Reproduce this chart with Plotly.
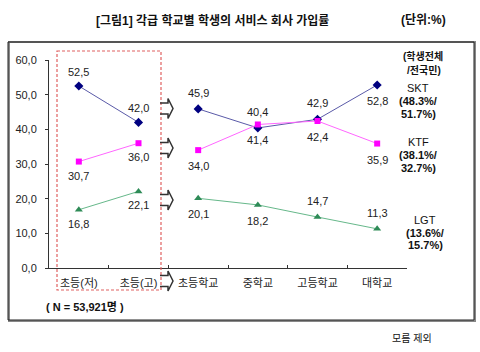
import plotly.graph_objects as go

categories = ["초등(저)", "초등(고)", "초등학교", "중학교", "고등학교", "대학교"]
skt = [52.5, 42.0, 45.9, 40.4, 42.9, 52.8]
ktf = [30.7, 36.0, 34.0, 41.4, 42.4, 35.9]
lgt = [16.8, 22.1, 20.1, 18.2, 14.7, 11.3]
y_ticks = [0, 10, 20, 30, 40, 50, 60]

title_text = "[그림1] 각급 학교별 학생의 서비스 회사 가입률"
unit_text = "(단위:%)"
n_text = "( N = 53,921명 )"
note_text = "모름 제외"
side_header = ["(학생전체", "/전국민)"]
side_labels = {
    "SKT": ["SKT", "(48.3%/", "51.7%)"],
    "KTF": ["KTF", "(38.1%/", "32.7%)"],
    "LGT": ["LGT", "(13.6%/", "15.7%)"],
}

W, H = 480, 352
L, R, T, B = 49, 407, 60, 268
FONT = "Liberation Sans, Arial, Noto Sans CJK KR, sans-serif"

def px(x):
    return (x - L) / (R - L)

def py(y):
    return (B - y) / (B - T)

def fmt(v):
    return f"{v:.1f}".replace(".", ",")

series = [
    ("SKT", skt, "#000080", "#5a5aa8", "diamond", 7,
     ["top"] * 5 + ["bottom"]),
    ("KTF", ktf, "#ff00ff", "#ff66ff", "square", 6,
     ["bottom"] * 6),
    ("LGT", lgt, "#2e8b57", "#66b88a", "triangle-up", 7,
     ["bottom"] * 4 + ["top"] * 2),
]

annotations = []
fig = go.Figure()
for name, vals, mcol, lcol, sym, msz, pos in series:
    for sl in (slice(0, 2), slice(2, 6)):
        fig.add_trace(go.Scatter(
            x=categories[sl], y=vals[sl], mode="lines+markers",
            line=dict(color=lcol, width=1),
            marker=dict(symbol=sym, size=msz, color=mcol),
            showlegend=False, cliponaxis=False, name=name,
        ))
    for i, (c, v, p) in enumerate(zip(categories, vals, pos)):
        shift = 14 if i < 2 else 16
        annotations.append(dict(
            x=c, y=v, xref="x", yref="y", text=fmt(v), showarrow=False,
            xanchor="center", yanchor="middle",
            yshift=shift if p == "top" else -shift,
            font=dict(size=11, color="#222222", family=FONT)))

shapes = []
# outer box with shadow
shapes.append(dict(type="rect", xref="paper", yref="paper",
                   x0=px(9), x1=px(475), y0=py(42), y1=py(321),
                   line=dict(color="#888888", width=2), layer="below"))
shapes.append(dict(type="rect", xref="paper", yref="paper",
                   x0=px(8), x1=px(474), y0=py(42), y1=py(320),
                   line=dict(color="#222222", width=1), layer="below"))
# red dashed box
shapes.append(dict(type="rect", xref="paper", yref="paper",
                   x0=px(57), x1=px(161), y0=py(51), y1=py(290),
                   line=dict(color="#e06060", width=1.2, dash="3px,2px")))

# block arrows
def arrow(cy, half_body=5.5, half_head=10):
    xs = [(160, cy - half_body), (168, cy - half_body), (168, cy - half_head),
          (173, cy), (168, cy + half_head), (168, cy + half_body), (160, cy + half_body)]
    d = "M " + " L ".join(f"{px(x):.5f},{py(y):.5f}" for x, y in xs)
    return dict(type="path", xref="paper", yref="paper", path=d,
                line=dict(color="#333333", width=1.5))

for cy in (108.5, 148, 200, 281):
    shapes.append(arrow(cy))

def ann(text, x, y, size=11, bold=False, color="#111111"):
    if bold:
        text = f"<b>{text}</b>"
    annotations.append(dict(text=text, xref="paper", yref="paper",
                            x=px(x), y=py(y), xanchor="center", yanchor="middle",
                            showarrow=False, font=dict(size=size, color=color, family=FONT)))

ann(title_text, 212, 20, size=12, bold=True)
ann(unit_text, 423, 20, size=12, bold=True)
ann(n_text, 85, 307, size=11, bold=True)
ann(note_text, 412, 338, size=10)
ann(side_header[0], 423, 56, size=10, bold=True)
ann(side_header[1], 424, 70, size=10, bold=True)
for key, (cx, ys) in {"SKT": (418, (88, 101, 114)),
                      "KTF": (418, (142, 155, 168)),
                      "LGT": (425, (220, 233, 245))}.items():
    lines = side_labels[key]
    ann(lines[0], cx, ys[0], size=11)
    ann(lines[1], cx, ys[1], size=11, bold=True)
    ann(lines[2], cx, ys[2], size=11, bold=True)

fig.update_layout(
    width=W, height=H,
    margin=dict(l=L, r=W - R, t=T, b=H - B),
    paper_bgcolor="white", plot_bgcolor="white",
    separators=",.",
    shapes=shapes, annotations=annotations,
    font=dict(family=FONT, size=11, color="#111111"),
    xaxis=dict(type="category", categoryorder="array", categoryarray=categories,
               range=[-0.5, 5.5], showline=True, linecolor="#333333", linewidth=1,
               ticks="inside", tickson="boundaries", ticklen=3, tickcolor="#333333",
               showgrid=False, zeroline=False, ticklabelstandoff=5,
               tickfont=dict(size=11, color="#222222", family=FONT)),
    yaxis=dict(range=[0, 60], tickvals=y_ticks, tickformat=".1f",
               showline=True, linecolor="#333333", linewidth=1,
               ticks="outside", ticklen=3, tickcolor="#333333",
               showgrid=False, zeroline=False, ticklabelstandoff=6,
               tickfont=dict(size=11, color="#222222", family=FONT)),
)

fig.write_html("out.html")
